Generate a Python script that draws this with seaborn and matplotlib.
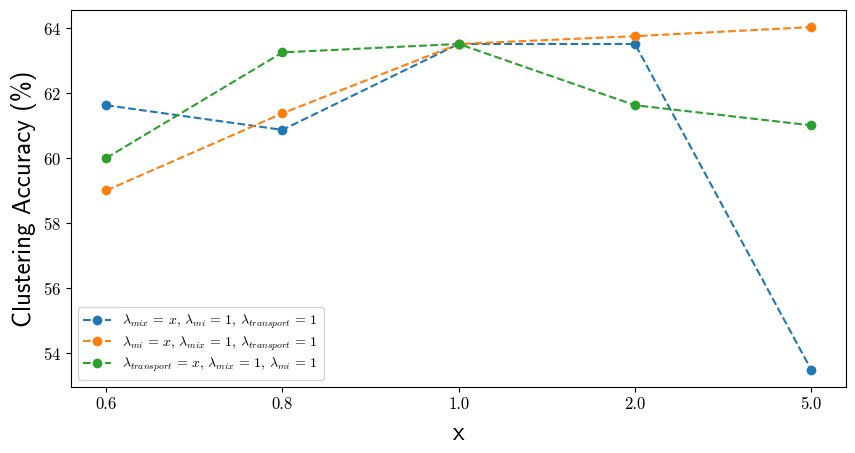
import matplotlib
matplotlib.use("Agg")
import matplotlib.pyplot as plt
import seaborn as sns
import pandas as pd

x_labels = ["0.6", "0.8", "1.0", "2.0", "5.0"]
acc_mix = [61.63, 60.87, 63.52, 63.52, 53.47]
acc_mi = [59.0, 61.38, 63.52, 63.76, 64.04]
acc_transport = [60.0, 63.26, 63.52, 61.63, 61.01]
series_labels = [
    r"$\lambda_{mix} \,=\, x,\, \lambda_{mi} \,=\, 1,\, \lambda_{transport} \,=\, 1$",
    r"$\lambda_{mi} \,=\, x,\, \lambda_{mix} \,=\, 1,\, \lambda_{transport} \,=\, 1$",
    r"$\lambda_{transport} \,=\, x,\, \lambda_{mix} \,=\, 1,\, \lambda_{mi} \,=\, 1$",
]
colors = ["#1f77b4", "#ff7f0e", "#2ca02c"]

plt.rcParams["mathtext.fontset"] = "cm"
plt.rcParams["axes.formatter.use_mathtext"] = True

fig, ax = plt.subplots(figsize=(8.55, 4.53), dpi=100)
fig.subplots_adjust(left=0.083, right=0.99, top=0.978, bottom=0.146)

for vals, lab, c in zip([acc_mix, acc_mi, acc_transport], series_labels, colors):
    df = pd.DataFrame({"x": x_labels, "acc": vals})
    sns.lineplot(data=df, x="x", y="acc", ax=ax, color=c, marker="o",
                 markersize=7, markeredgewidth=0, linestyle="--",
                 linewidth=1.5, label=lab, sort=False)

ax.set_xlabel("x", fontfamily="cmss10", fontsize=18, labelpad=7)
ax.set_ylabel("Clustering Accuracy (%)", fontfamily="cmss10", fontsize=18)
ax.set_yticks([54, 56, 58, 60, 62, 64])
for t in ax.get_xticklabels() + ax.get_yticklabels():
    t.set_fontfamily("cmr10")
    t.set_fontsize(12)
ax.legend(loc="lower left", fontsize=10, labelspacing=0.25, handlelength=2.0)

fig.savefig("out.png", dpi=100)
